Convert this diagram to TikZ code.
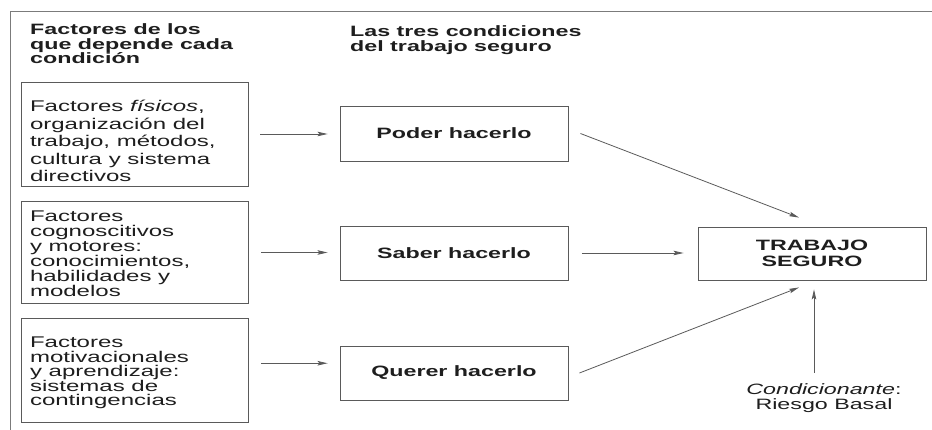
\documentclass[tikz,border=0pt]{standalone}
\usepackage{fontspec}
\usepackage{graphicx}
\setmainfont{Liberation Sans}
\usetikzlibrary{arrows.meta}
\definecolor{ink}{HTML}{1E1E1E}
\definecolor{linec}{HTML}{5A5A5A}
\newcommand{\sx}[1]{\scalebox{1.55}[1]{#1}}
\newcommand{\stkl}[2]{\vtop{\baselineskip=#1\relax\lineskiplimit=-\maxdimen\lineskip=0pt\halign{##\hfil\cr#2\crcr}}}
\newcommand{\stkc}[2]{\vtop{\baselineskip=#1\relax\lineskiplimit=-\maxdimen\lineskip=0pt\halign{\hfil##\hfil\cr#2\crcr}}}
\tikzset{
  box/.style={draw=linec, line width=0.9pt, inner sep=0pt, text=ink},
  lbox/.style={box, minimum width=227pt, font=\fontsize{15.5}{17}\selectfont},
  mbox/.style={box, minimum width=228pt, minimum height=55pt, font=\fontsize{15}{16}\selectfont\bfseries},
  tbox/.style={box, minimum width=228pt, minimum height=53pt, font=\fontsize{15}{16}\selectfont\bfseries},
  hdr/.style={inner sep=0pt, text=ink, anchor=base west, font=\fontsize{15}{15}\selectfont\bfseries},
  note/.style={inner sep=0pt, text=ink, anchor=base, font=\fontsize{15}{15}\selectfont},
  arr/.style={draw=linec, line width=0.8pt, -{Stealth[length=10pt,width=4.5pt,inset=2pt]}},
  frame/.style={draw=linec!80, line width=0.9pt}
}
\begin{document}
\begin{tikzpicture}[x=1pt, y=-1pt]
\useasboundingbox (0,0) rectangle (932,430);
\fill[white] (0,0) rectangle (932,430);
\draw[frame] (10,430) -- (10,11.5) -- (932,11.5);

% headers
\node[hdr] (h1) at (30,35) {\sx{\stkl{14.5pt}{Factores de los\cr que depende cada\cr condición}}};
\node[hdr] (h2) at (350,36.5) {\sx{\stkl{15pt}{Las tres condiciones\cr del trabajo seguro}}};

% left boxes
\node[lbox, minimum height=104pt] (f1) at (134.5,134)
  {\raisebox{0pt}[0pt][44pt]{\makebox[209pt][l]{\sx{\stkl{17.5pt}{Factores \textit{físicos},\cr organización del\cr trabajo, métodos,\cr cultura y sistema\cr directivos}}}}};
\node[lbox, minimum height=102pt] (f2) at (134.5,252.5)
  {\raisebox{0pt}[0pt][61pt]{\makebox[209pt][l]{\sx{\stkl{15pt}{Factores\cr cognoscitivos\cr y motores:\cr conocimientos,\cr habilidades y\cr modelos}}}}};
\node[lbox, minimum height=103.5pt] (f3) at (134.5,370.25)
  {\raisebox{0pt}[0pt][45.5pt]{\makebox[209pt][l]{\sx{\stkl{14.6pt}{Factores\cr motivacionales\cr y aprendizaje:\cr sistemas de\cr contingencias}}}}};

% middle boxes
\node[mbox] (p) at (454,133.5) {\sx{Poder hacerlo}};
\node[mbox, minimum height=54pt] (s) at (454,253) {\sx{Saber hacerlo}};
\node[mbox, minimum height=54pt] (q) at (454,373) {\sx{Querer hacerlo}};

% result box
\node[tbox] (t) at (812,253.5) {\sx{\stkc{16.5pt}{TRABAJO\cr SEGURO}}};

% note
\node[note] (r) at (824,395) {\sx{\stkc{14pt}{\textit{Condicionante}:\cr Riesgo Basal}}};

% connectors
\draw[arr, shorten <=12pt, shorten >=12pt] (f1.east) -- (f1.east -| p.west);
\draw[arr, shorten <=13pt, shorten >=12pt] (f2.east) -- (f2.east -| s.west);
\draw[arr, shorten <=13pt, shorten >=12pt] ([yshift=7pt]f3.east) -- ([yshift=7pt]f3.east -| q.west);
\draw[arr] ([xshift=12pt]p.east) -- ([xshift=-13pt,yshift=9pt]t.north);
\draw[arr, shorten <=13.5pt, shorten >=14pt] (s.east) -- (s.east -| t.west);
\draw[arr] ([xshift=11pt]q.east) -- ([xshift=-13pt,yshift=-7pt]t.south);
\draw[arr] ([xshift=-10pt,yshift=11pt]r.north) -- ([xshift=2pt,yshift=-9pt]t.south);
\end{tikzpicture}
\end{document}
